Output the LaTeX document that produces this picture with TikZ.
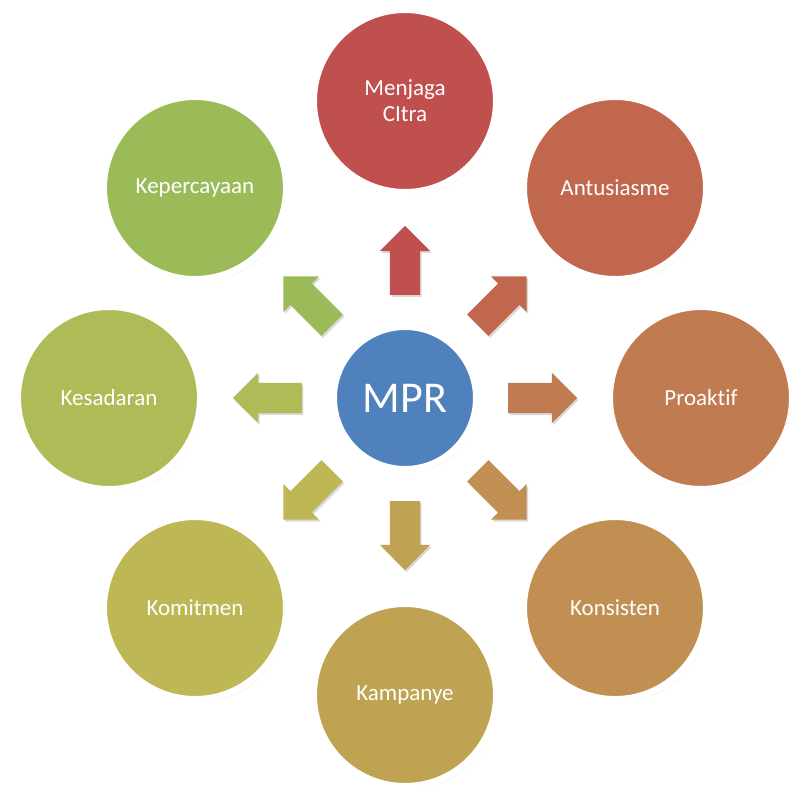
\documentclass[tikz,border=0pt]{standalone}
\usepackage{fontspec}
\setmainfont{Carlito}[Ligatures={NoCommon}]
\usetikzlibrary{shapes.arrows,shadows}

\definecolor{cMenjaga}{HTML}{C0504D}
\definecolor{cAntus}{HTML}{C0674D}
\definecolor{cProak}{HTML}{C07B50}
\definecolor{cKons}{HTML}{C08F51}
\definecolor{cKamp}{HTML}{BFA352}
\definecolor{cKomit}{HTML}{BEB756}
\definecolor{cKesad}{HTML}{AFBB57}
\definecolor{cKeper}{HTML}{9BBB59}
\definecolor{cMPR}{HTML}{4F81BD}

\tikzset{
  softshadow/.style={drop shadow={opacity=0.18, shadow xshift=2pt, shadow yshift=-3pt, fill=black}},
  bubble/.style={circle, inner sep=0pt, minimum size=183pt, draw=white, line width=7pt,
    fill=#1, text=white, font=\fontsize{23}{26}\selectfont, align=center, softshadow},
  hub/.style={circle, inner sep=0pt, minimum size=143pt, draw=white, line width=7pt,
    fill=cMPR, text=white, font=\fontsize{44}{48}\selectfont, softshadow},
  blockarrow/.style={single arrow, fill=#1, draw=none, inner xsep=0pt, inner ysep=15pt,
    outer sep=0pt, minimum height=69pt, single arrow head extend=10pt,
    single arrow tip angle=90, anchor=tail,
    drop shadow={opacity=0.15, shadow xshift=1.5pt, shadow yshift=-2pt, fill=black}}
}

\begin{document}
\begin{tikzpicture}[x=1pt,y=1pt]
  \useasboundingbox (-405,-391) rectangle (384,398);

  % radial block arrows, tail at 103pt from the hub centre
  \node[blockarrow=cMenjaga, rotate=90]  (a1) at (90:103) {};
  \node[blockarrow=cAntus,   rotate=45]  (a2) at (45:103) {};
  \node[blockarrow=cProak,   rotate=0]   (a3) at (0:103) {};
  \node[blockarrow=cKons,    rotate=-45] (a4) at (-45:103) {};
  \node[blockarrow=cKamp,    rotate=-90] (a5) at (-90:103) {};
  \node[blockarrow=cKomit,   rotate=-135](a6) at (-135:103) {};
  \node[blockarrow=cKesad,   rotate=180] (a7) at (180:103) {};
  \node[blockarrow=cKeper,   rotate=135] (a8) at (135:103) {};

  % outer ring of values
  \node[bubble=cMenjaga] (menjaga) at (90:297)  {Menjaga\\CItra};
  \node[bubble=cAntus]   (antus)   at (45:297)  {Antusiasme};
  \node[bubble=cProak]   (proak)   at (0:296)   {Proaktif};
  \node[bubble=cKons]    (kons)    at (-45:297) {Konsisten};
  \node[bubble=cKamp]    (kamp)    at (-90:297) {Kampanye};
  \node[bubble=cKomit]   (komit)   at (-135:297){Komitmen};
  \node[bubble=cKesad]   (kesad)   at (180:296) {Kesadaran};
  \node[bubble=cKeper]   (keper)   at (135:297) {Kepercayaan};

  % hub
  \node[hub] (mpr) at (0,0) {MPR};
\end{tikzpicture}
\end{document}
